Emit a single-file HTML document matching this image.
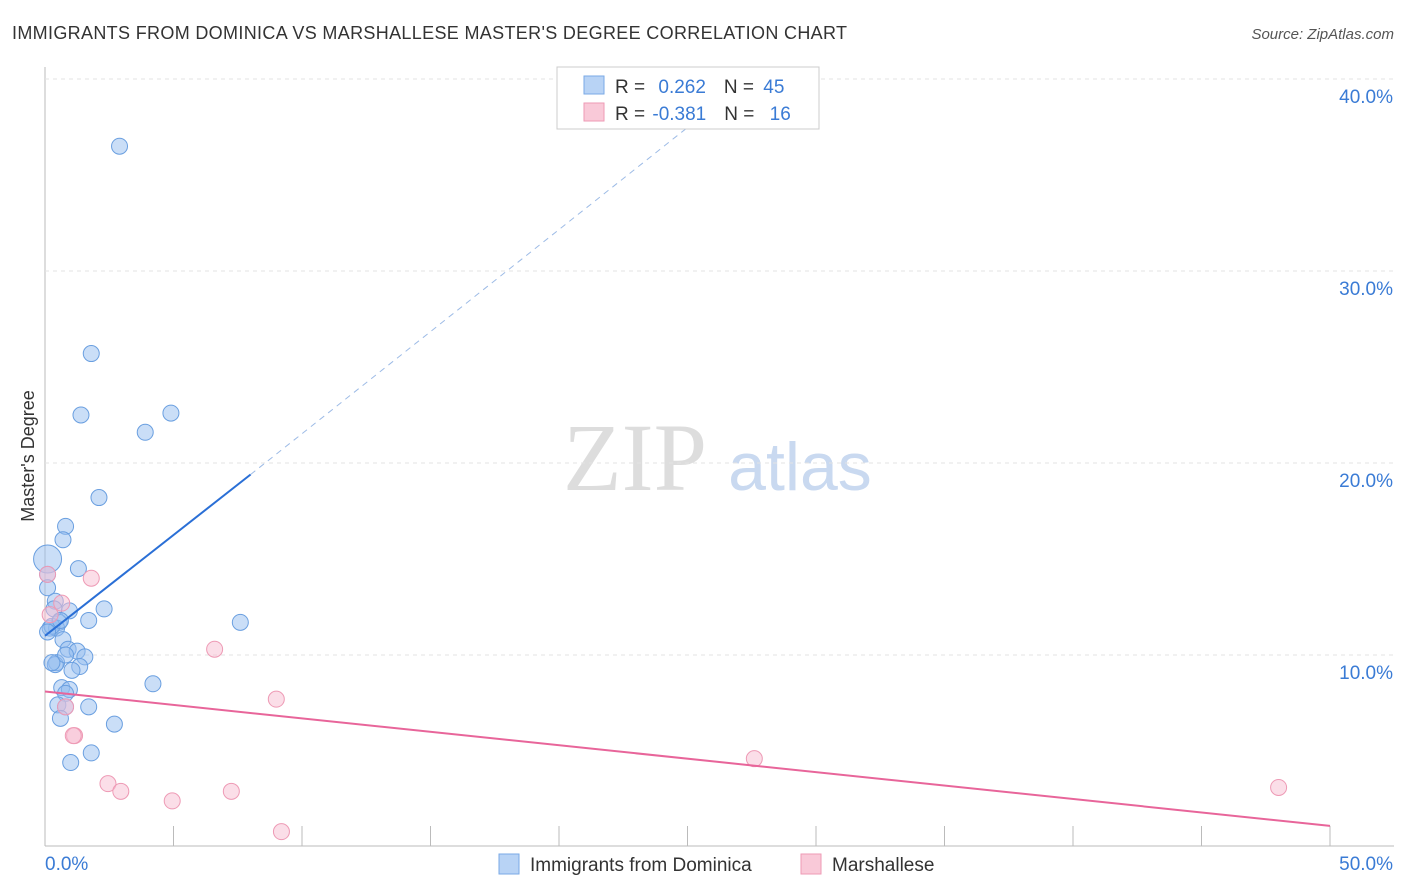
<!DOCTYPE html>
<html><head><meta charset="utf-8"><style>
body{margin:0;background:#fff;font-family:"Liberation Sans",sans-serif;}
#w{position:relative;width:1406px;height:892px;overflow:hidden}
</style></head><body><div id="w">
<svg id="s" width="1406" height="892">
<text x="12" y="39" font-size="18" fill="#333" textLength="835">IMMIGRANTS FROM DOMINICA VS MARSHALLESE MASTER'S DEGREE CORRELATION CHART</text>
<text x="1394" y="39" font-size="15" fill="#555" text-anchor="end" font-style="italic">Source: ZipAtlas.com</text>
<text x="34" y="456" font-size="18" fill="#333" text-anchor="middle" transform="rotate(-90 34 456)">Master's Degree</text>
<text x="635" y="490" font-size="96" fill="#ddd" text-anchor="middle" font-family="Liberation Serif,serif">ZIP</text>
<text x="800" y="490" font-size="68" fill="#c9d9f0" text-anchor="middle">atlas</text>
<g id="grid"></g><g id="pts"></g>
<rect x="557" y="67" width="262" height="62" fill="#fff" stroke="#ccc"/>
<rect x="584" y="76" width="20" height="18" fill="#b8d3f5" stroke="#7aa9e6"/>
<rect x="584" y="103" width="20" height="18" fill="#f9c9d8" stroke="#ee9ab5"/>
<text x="615" y="93" font-size="19" fill="#333">R = <tspan fill="#3a7bd5" dx="8">0.262</tspan><tspan dx="18">N = </tspan><tspan fill="#3a7bd5" dx="4">45</tspan></text>
<text x="615" y="120" font-size="19" fill="#333">R = <tspan fill="#3a7bd5" dx="2">-0.381</tspan><tspan dx="18">N = </tspan><tspan fill="#3a7bd5" dx="10">16</tspan></text>
<rect x="499" y="854" width="20" height="20" fill="#b8d3f5" stroke="#7aa9e6"/>
<text x="530" y="871" font-size="19" fill="#333">Immigrants from Dominica</text>
<rect x="801" y="854" width="20" height="20" fill="#f9c9d8" stroke="#ee9ab5"/>
<text x="832" y="871" font-size="19" fill="#333">Marshallese</text>
</svg>
<script>
const yTicks=[10,20,30,40];
const xTickLabels=["0.0%","50.0%"];
const blueX=[2.9,1.8,1.4,4.9,3.9,2.1,0.8,0.7,0.1,1.3,0.1,0.1,0.4,0.35,0.95,2.3,1.7,7.6,0.2,0.55,0.45,0.7,0.9,1.25,1.55,0.45,0.4,1.35,1.05,4.2,0.65,0.95,0.8,1.7,0.5,0.8,0.6,2.7,1.8,1.0,0.27,0.1,0.6,0.8,0.27];
const blueY=[36.5,25.7,22.5,22.6,21.6,18.2,16.7,16.0,15.0,14.5,14.2,13.5,12.8,12.4,12.3,12.4,11.8,11.7,11.4,11.7,11.4,10.8,10.3,10.2,9.9,9.6,9.5,9.4,9.2,8.5,8.3,8.2,8.0,7.3,7.4,7.3,6.7,6.4,4.9,4.4,11.5,11.2,11.8,10.0,9.6];
const blueR=[8,8,8,8,8,8,8,8,14,8,8,8,8,8,8,8,8,8,8,8,8,8,8,8,8,8,8,8,8,8,8,8,8,8,8,8,8,8,8,8,8,8,8,8,8];
const pinkX=[0.1,1.8,0.65,0.2,6.6,9.0,0.8,1.15,1.1,2.45,2.95,4.95,7.25,9.2,27.6,48.0];
const pinkY=[14.2,14.0,12.7,12.1,10.3,7.7,7.3,5.8,5.8,3.3,2.9,2.4,2.9,0.8,4.6,3.1];
const blueLine=[0,11.0,8,19.4];const blueDash=[8,19.4,27,39.6];
const pinkLine=[0,8.1,50,1.1];
const X=v=>45+v*25.7, Y=v=>847-v*19.2;
const NS="http://www.w3.org/2000/svg";
const g=document.getElementById('grid'),p=document.getElementById('pts');
function mk(t,a,par){const e=document.createElementNS(NS,t);for(const k in a)e.setAttribute(k,a[k]);par.appendChild(e);return e;}
let ax=mk('line',{x1:45,y1:67,x2:45,y2:846,stroke:'#bbb'},g);


let bx=mk('line',{x1:45,y1:846,x2:1394,y2:846,stroke:'#bbb'},g);


for(let i=0;i<=10;i++){let t=mk('line',{x1:X(i*5),y1:826,x2:X(i*5),y2:846,stroke:'#bbb'},g);

}
yTicks.forEach(v=>{let l=mk('line',{x1:45,y1:Y(v),x2:1394,y2:Y(v),stroke:'#e3e3e3','stroke-dasharray':'4 4'},g);


let t=mk('text',{x:1393,y:Y(v)+24,'font-size':19,fill:'#3a7bd5','text-anchor':'end'},g);t.textContent=v.toFixed(1)+'%';

});
xTickLabels.forEach((s,i)=>{let t=mk('text',{x:i?1393:45,y:870,'font-size':19,fill:'#3a7bd5','text-anchor':i?'end':'start'},g);t.textContent=s;

});
blueX.forEach((v,i)=>{let c=mk('circle',{cx:X(v),cy:Y(blueY[i]),r:blueR[i],fill:'rgba(150,190,240,0.5)',stroke:'#6a9fe0','stroke-width':1},p);

});
pinkX.forEach((v,i)=>{let c=mk('circle',{cx:X(v),cy:Y(pinkY[i]),r:8,fill:'rgba(248,190,210,0.5)',stroke:'#ee9ab5','stroke-width':1},p);

});
let l1=mk('line',{x1:X(blueLine[0]),y1:Y(blueLine[1]),x2:X(blueLine[2]),y2:Y(blueLine[3]),stroke:'#2a6fd6','stroke-width':2},p);


let l2=mk('line',{x1:X(blueDash[0]),y1:Y(blueDash[1]),x2:X(blueDash[2]),y2:Y(blueDash[3]),stroke:'#9dbbe6','stroke-width':1,'stroke-dasharray':'6 5'},p);


let l3=mk('line',{x1:X(pinkLine[0]),y1:Y(pinkLine[1]),x2:X(pinkLine[2]),y2:Y(pinkLine[3]),stroke:'#e8659a','stroke-width':2},p);


</script></div></body></html>
